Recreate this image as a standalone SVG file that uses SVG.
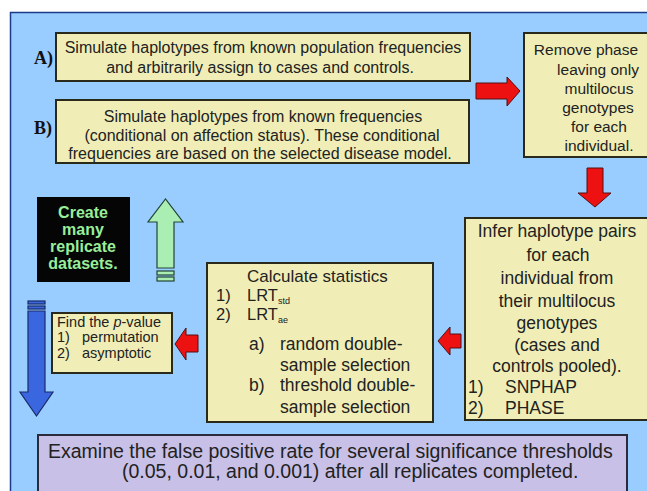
<svg xmlns="http://www.w3.org/2000/svg" width="647" height="491" viewBox="0 0 647 491">
<style>
.box{fill:#f0eeb6;stroke:#2a2a1a;stroke-width:2}
.t{font-family:"Liberation Sans",Arial,sans-serif;fill:#222;}
.red{fill:#ee1111;stroke:#551111;stroke-width:1}
</style>
<rect x="0" y="0" width="647" height="491" fill="#ffffff"/>
<rect x="10.5" y="12.5" width="640" height="482" fill="#99ccff" stroke="#1a3a8a" stroke-width="1.5"/>
<g id="labelA"><text x="34" y="64" font-family="Liberation Serif,serif" font-weight="bold" font-size="18" fill="#111">A)</text></g>
<g id="labelB"><text x="34" y="134" font-family="Liberation Serif,serif" font-weight="bold" font-size="18" fill="#111">B)</text></g>
<g id="boxA">
<rect class="box" x="56" y="33" width="414" height="48"/>
<text class="t" font-size="16" text-anchor="middle"><tspan x="263" y="53">Simulate haplotypes from known population frequencies</tspan><tspan x="260" y="73">and arbitrarily assign to cases and controls.</tspan></text>
</g>
<g id="boxB">
<rect class="box" x="56" y="100" width="413" height="63"/>
<text class="t" font-size="16" text-anchor="middle"><tspan x="263" y="122">Simulate haplotypes from known frequencies</tspan><tspan x="262" y="141">(conditional on affection status).  These conditional</tspan><tspan x="260" y="159">frequencies are based on the selected disease model.</tspan></text>
</g>
<g id="removePhase">
<rect class="box" x="524" y="33" width="130" height="124"/>
<text class="t" font-size="15.5" text-anchor="middle"><tspan x="586" y="55">Remove phase</tspan><tspan x="598" y="75">leaving only</tspan><tspan x="599" y="94">multilocus</tspan><tspan x="598" y="113">genotypes</tspan><tspan x="599" y="132">for each</tspan><tspan x="599" y="151">individual.</tspan></text>
</g>
<g id="infer">
<rect class="box" x="465" y="218" width="190" height="202"/>
<text class="t" font-size="17.5" text-anchor="middle"><tspan x="557" y="237">Infer haplotype pairs</tspan><tspan x="558" y="261">for each</tspan><tspan x="557" y="284">individual from</tspan><tspan x="557" y="307">their multilocus</tspan><tspan x="557" y="329">genotypes</tspan><tspan x="557" y="351">(cases and</tspan><tspan x="557" y="372">controls pooled).</tspan></text>
<text class="t" font-size="17.5"><tspan x="468" y="393">1)</tspan><tspan x="505" y="393">SNPHAP</tspan><tspan x="468" y="414">2)</tspan><tspan x="505" y="414">PHASE</tspan></text>
</g>
<g id="calc">
<rect class="box" x="207" y="263" width="226" height="159"/>
<text class="t" font-size="17"><tspan x="247" y="282">Calculate statistics</tspan></text>
<text class="t" font-size="16.5"><tspan x="216" y="301">1)</tspan><tspan x="247" y="301">LRT</tspan><tspan font-size="9" dy="3">std</tspan></text>
<text class="t" font-size="16.5"><tspan x="216" y="320">2)</tspan><tspan x="247" y="320">LRT</tspan><tspan font-size="9" dy="3">ae</tspan></text>
<text class="t" font-size="17.5"><tspan x="249" y="350">a)</tspan><tspan x="280" y="350">random double-</tspan><tspan x="280" y="371">sample selection</tspan><tspan x="249" y="391">b)</tspan><tspan x="280" y="391">threshold double-</tspan><tspan x="280" y="413">sample selection</tspan></text>
</g>
<g id="pvalue">
<rect class="box" x="52" y="313" width="120" height="60"/>
<text class="t" font-size="14.5"><tspan x="57" y="327">Find the </tspan><tspan font-style="italic">p</tspan><tspan>-value</tspan><tspan x="57" y="342">1)</tspan><tspan x="82" y="342">permutation</tspan><tspan x="57" y="358">2)</tspan><tspan x="82" y="358">asymptotic</tspan></text>
</g>
<g id="create">
<rect x="37" y="197" width="93" height="85" fill="#050505"/>
<text font-family="Liberation Sans,Arial,sans-serif" font-weight="bold" font-size="16" fill="#99ee99" text-anchor="middle"><tspan x="83" y="218">Create</tspan><tspan x="83" y="235">many</tspan><tspan x="83" y="252">replicate</tspan><tspan x="83" y="269">datasets.</tspan></text>
</g>
<g id="examine">
<rect x="38" y="435" width="589" height="60" fill="#c8c0e6" stroke="#2a2a3a" stroke-width="2"/>
<text class="t" font-size="19.5"><tspan x="48" y="458">Examine the false positive rate for several significance thresholds</tspan><tspan x="122" y="478">(0.05, 0.01, and 0.001) after all replicates completed.</tspan></text>
</g>
<g id="connectors">
<polygon class="red" points="476,83 507,83 507,77 520,91 507,106 507,99 476,99"/>
<polygon class="red" points="587,168 603,168 603,193 611,193 595,207 578,193 587,193"/>
<polygon class="red" points="461,334 450,334 450,327 438,341 450,355 450,348 461,348"/>
<polygon class="red" points="198,335 186,335 186,328 175,344 186,360 186,352 198,352"/>
<g fill="#aaeeb4" stroke="#224433" stroke-width="1.2">
<polygon points="157,268 157,222 148,222 165.5,199 183,222 174,222 174,268"/>
<rect x="157" y="271" width="17" height="4"/>
<rect x="157" y="277" width="17" height="4"/>
</g>
<g fill="#3a66e0" stroke="#1a2a66" stroke-width="1.2">
<rect x="28" y="301" width="17" height="3"/>
<rect x="28" y="306" width="17" height="3"/>
<polygon points="28,311 45,311 45,392 53,392 36.5,416 20,392 28,392"/>
</g>
</g>
</svg>
